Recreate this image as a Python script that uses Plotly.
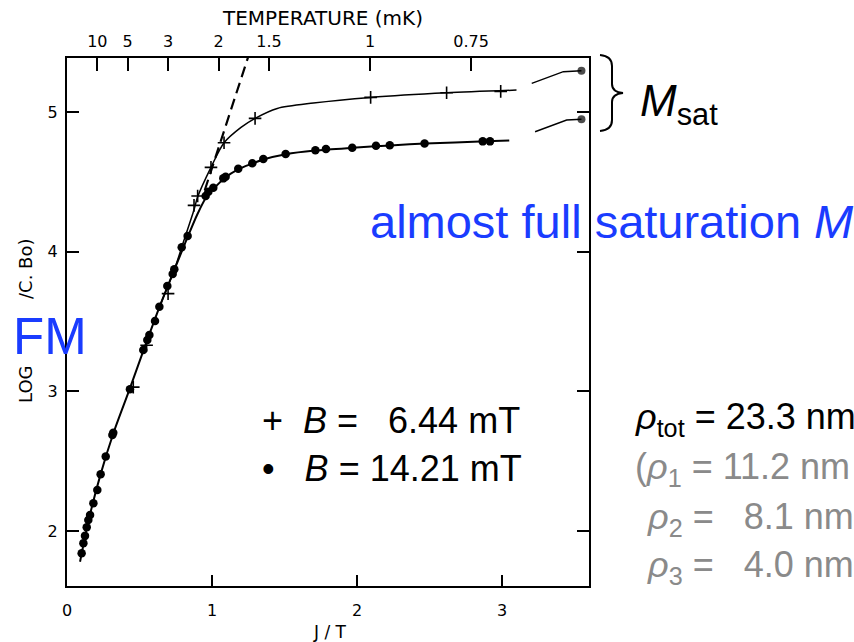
import plotly.graph_objects as go

# --- measured magnetisation, log(M / C.Bo) against J/T ---
# B = 14.21 mT (filled dots)
dots_x = [0.101, 0.113, 0.124, 0.136, 0.147, 0.159, 0.182, 0.209, 0.232, 0.267,
          0.313, 0.319, 0.434, 0.526, 0.554, 0.568, 0.607, 0.637, 0.692, 0.729,
          0.740, 0.791, 0.832, 0.956, 0.975, 1.009, 1.078, 1.094, 1.181, 1.278,
          1.354, 1.508, 1.713, 1.786, 1.967, 2.131, 2.226, 2.466, 2.867, 2.917]
dots_y = [1.841, 1.913, 1.965, 2.027, 2.079, 2.115, 2.199, 2.294, 2.407, 2.533,
          2.688, 2.704, 3.015, 3.296, 3.368, 3.404, 3.504, 3.606, 3.755, 3.840,
          3.874, 4.031, 4.112, 4.399, 4.430, 4.458, 4.525, 4.537, 4.594, 4.633,
          4.664, 4.699, 4.726, 4.735, 4.744, 4.758, 4.763, 4.775, 4.790, 4.790]

# B = 6.44 mT (crosses)
plus_x = [0.457, 0.549, 0.697, 0.876, 0.901, 0.993, 1.083, 1.297, 2.094, 2.618, 2.991]
plus_y = [3.030, 3.330, 3.700, 4.332, 4.399, 4.604, 4.780, 4.955, 5.105, 5.138, 5.148]

# smooth guide curves through each data set
curve_dots_x = [0.09, 0.15, 0.23, 0.32, 0.43, 0.53, 0.64, 0.74, 0.83, 0.90, 0.96,
                1.01, 1.09, 1.18, 1.28, 1.36, 1.51, 1.71, 1.97, 2.23, 2.47, 2.89, 3.05]
curve_dots_y = [1.78, 2.08, 2.40, 2.70, 3.01, 3.30, 3.61, 3.87, 4.10, 4.27, 4.39,
                4.45, 4.53, 4.59, 4.632, 4.662, 4.698, 4.724, 4.744, 4.761, 4.774, 4.790, 4.797]

curve_plus_x = [0.64, 0.74, 0.80, 0.876, 0.90, 0.993, 1.083, 1.20, 1.297, 1.45,
                1.70, 2.094, 2.618, 3.10]
curve_plus_y = [3.61, 3.87, 4.06, 4.30, 4.39, 4.604, 4.78, 4.89, 4.955, 5.026,
                5.065, 5.105, 5.138, 5.157]

# dashed extension of the high-temperature slope
dash_x = [0.95, 1.248]
dash_y = [4.44, 5.39]

# extrapolated saturation values at the right edge
sat_hi_x = [3.205, 3.423, 3.548]
sat_hi_y = [5.205, 5.289, 5.296]
sat_lo_x = [3.228, 3.446, 3.548]
sat_lo_y = [4.859, 4.943, 4.948]

# axis ticks
x_ticks = [0, 1, 2, 3]
y_ticks = [2, 3, 4, 5]
temps_mK = [10, 5, 3, 2, 1.5, 1, 0.75]
temp_labels = ["10", "5", "3", "2", "1.5", "1", "0.75"]
J_mK = 2.09  # exchange constant, sets the J/T position of each temperature

X_RANGE = [0, 3.60]
Y_RANGE = [1.606, 5.387]

# plot frame in page pixels
W, H = 854, 642
L, R, T, B = 67, 589, 58, 586


def px(x):
    return (x - L) / (R - L)


def py(y):
    return (B - y) / (B - T)


SCAN_FONT = "DejaVu Sans"
SLIDE_FONT = "Liberation Sans, Arial, sans-serif"
BLUE = "#1a3cff"
GREY = "#8a8a8a"

fig = go.Figure()

fig.add_trace(go.Scatter(x=curve_dots_x, y=curve_dots_y, mode="lines",
                         line=dict(color="black", width=2.0, shape="spline", smoothing=0.8),
                         hoverinfo="skip", showlegend=False))
fig.add_trace(go.Scatter(x=curve_plus_x, y=curve_plus_y, mode="lines",
                         line=dict(color="black", width=1.5, shape="spline", smoothing=0.8),
                         hoverinfo="skip", showlegend=False))
fig.add_trace(go.Scatter(x=dash_x, y=dash_y, mode="lines",
                         line=dict(color="black", width=2.2, dash="11px,6px"),
                         hoverinfo="skip", showlegend=False))
fig.add_trace(go.Scatter(x=dots_x, y=dots_y, mode="markers", name="B = 14.21 mT",
                         marker=dict(color="black", size=8.5, symbol="circle"),
                         showlegend=False))
fig.add_trace(go.Scatter(x=plus_x, y=plus_y, mode="markers", name="B = 6.44 mT",
                         marker=dict(color="black", size=9, symbol="cross-thin",
                                     line=dict(color="black", width=1.6)),
                         showlegend=False))
for sx, sy in ((sat_hi_x, sat_hi_y), (sat_lo_x, sat_lo_y)):
    fig.add_trace(go.Scatter(x=sx, y=sy, mode="lines+markers",
                             line=dict(color="black", width=1.4),
                             marker=dict(color="black", size=[0, 0, 8], symbol="circle",
                                         line=dict(color="black", width=0)),
                             hoverinfo="skip", showlegend=False))

# top axis in temperature units
fig.add_trace(go.Scatter(x=[X_RANGE[0]], y=[Y_RANGE[0]], xaxis="x2", mode="markers",
                         marker=dict(opacity=0), hoverinfo="skip", showlegend=False))

axis_common = dict(showgrid=False, zeroline=False, showline=True, linecolor="black",
                   linewidth=2, ticks="inside", tickcolor="black", tickwidth=1.8,
                   tickfont=dict(family=SCAN_FONT, size=16, color="black"))

fig.update_layout(
    width=W, height=H,
    margin=dict(l=L, r=W - R, t=T, b=H - B, pad=0),
    paper_bgcolor="white", plot_bgcolor="white",
    showlegend=False,
    xaxis=dict(range=X_RANGE, tickvals=x_ticks, ticklen=11, mirror=False,
               ticklabelstandoff=9, **axis_common),
    xaxis2=dict(range=X_RANGE, overlaying="x", side="top", anchor="y",
                tickvals=[J_mK / t for t in temps_mK], ticktext=temp_labels,
                ticklen=13, ticklabelstandoff=3, **axis_common),
    yaxis=dict(range=Y_RANGE, tickvals=y_ticks, ticklen=12, mirror="ticks",
               ticklabelstandoff=4, **axis_common),
)

ann = []
# axis titles of the original figure
ann.append(dict(text="TEMPERATURE (mK)", x=px(322), y=py(18), xanchor="center", yanchor="middle",
                font=dict(family=SCAN_FONT, size=20, color="black")))
ann.append(dict(text="J / T", x=px(330), y=py(632), xanchor="center", yanchor="middle",
                font=dict(family=SCAN_FONT, size=17, color="black")))
ann.append(dict(text="LOG", x=px(25), y=py(384), xanchor="center", yanchor="middle", textangle=-90,
                font=dict(family=SCAN_FONT, size=18, color="black")))
ann.append(dict(text="/C. Bo)", x=px(25), y=py(269), xanchor="center", yanchor="middle", textangle=-90,
                font=dict(family=SCAN_FONT, size=18, color="black")))

# slide annotations
ann.append(dict(text="FM", x=px(11), y=py(336), xanchor="left", yanchor="middle",
                font=dict(family=SLIDE_FONT, size=51, color=BLUE)))
ann.append(dict(text="almost full saturation <i>M</i>", x=px(368), y=py(221), xanchor="left",
                yanchor="middle", font=dict(family=SLIDE_FONT, size=47, color=BLUE)))
ann.append(dict(text="<i>M</i><sub>sat</sub>", x=px(638), y=py(104), xanchor="left", yanchor="middle",
                font=dict(family=SLIDE_FONT, size=44, color="black")))

legend_rows = [("+\u00a0\u00a0<i>B</i> =\u00a0\u00a0\u00a06.44 mT", 420),
               ("\u2022\u00a0\u00a0\u00a0<i>B</i> = 14.21 mT", 468)]
for txt, yc in legend_rows:
    ann.append(dict(text=txt, x=px(260), y=py(yc), xanchor="left", yanchor="middle",
                    font=dict(family=SLIDE_FONT, size=36, color="black")))

rho_rows = [("<i>ρ</i><sub>tot</sub> = 23.3 nm", 633, 419, "black"),
            ("(<i>ρ</i><sub>1</sub> = 11.2 nm", 633, 469, GREY),
            ("<i>ρ</i><sub>2</sub> =\u00a0\u00a0\u00a08.1 nm", 645, 519, GREY),
            ("<i>ρ</i><sub>3</sub> =\u00a0\u00a0\u00a04.0 nm", 645, 567, GREY)]
for txt, xl, yc, col in rho_rows:
    ann.append(dict(text=txt, x=px(xl), y=py(yc), xanchor="left", yanchor="middle",
                    font=dict(family=SLIDE_FONT, size=36, color=col)))

for a in ann:
    a.update(xref="paper", yref="paper", showarrow=False)
fig.update_layout(annotations=ann)

# curly brace grouping the two saturation values
bx = [600, 612, 612, 612, 612, 623, 612, 612, 612, 612, 600]
by = [55, 56, 66, 84, 92, 93, 94, 102, 120, 130, 131]
brace = (f"M {px(bx[0])},{py(by[0])} Q {px(bx[1])},{py(by[1])} {px(bx[2])},{py(by[2])} "
         f"L {px(bx[3])},{py(by[3])} Q {px(bx[4])},{py(by[4])} {px(bx[5])},{py(by[5])} "
         f"Q {px(bx[6])},{py(by[6])} {px(bx[7])},{py(by[7])} "
         f"L {px(bx[8])},{py(by[8])} Q {px(bx[9])},{py(by[9])} {px(bx[10])},{py(by[10])}")
fig.add_shape(type="path", path=brace, xref="paper", yref="paper",
              line=dict(color="black", width=2))

fig.write_html("out.html")
